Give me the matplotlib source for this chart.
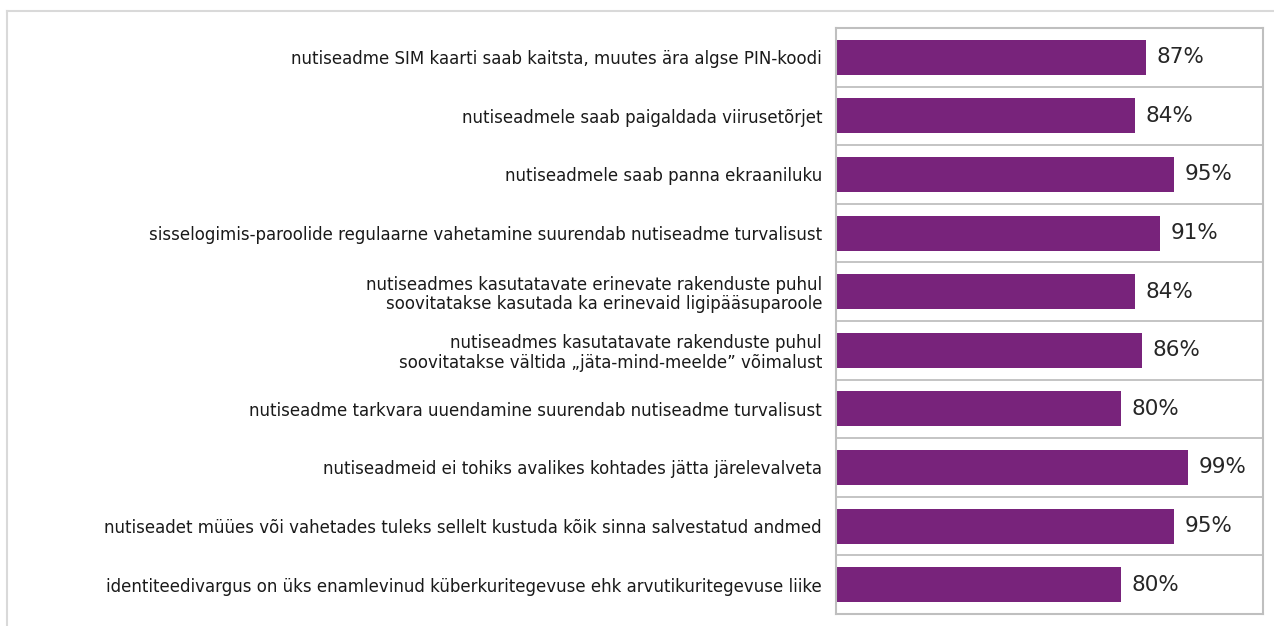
import matplotlib.pyplot as plt
from matplotlib.lines import Line2D

labels = [
    "nutiseadme SIM kaarti saab kaitsta, muutes ära algse PIN-koodi",
    "nutiseadmele saab paigaldada viirusetõrjet",
    "nutiseadmele saab panna ekraaniluku",
    "sisselogimis-paroolide regulaarne vahetamine suurendab nutiseadme turvalisust",
    "nutiseadmes kasutatavate erinevate rakenduste puhul\nsoovitatakse kasutada ka erinevaid ligipääsuparoole",
    "nutiseadmes kasutatavate rakenduste puhul\nsoovitatakse vältida „jäta-mind-meelde” võimalust",
    "nutiseadme tarkvara uuendamine suurendab nutiseadme turvalisust",
    "nutiseadmeid ei tohiks avalikes kohtades jätta järelevalveta",
    "nutiseadet müües või vahetades tuleks sellelt kustuda kõik sinna salvestatud andmed",
    "identiteedivargus on üks enamlevinud küberkuritegevuse ehk arvutikuritegevuse liike",
]
values = [87, 84, 95, 91, 84, 86, 80, 99, 95, 80]

W, H = 1274, 626
fig = plt.figure(figsize=(W / 100, H / 100), dpi=100)
ax = fig.add_axes([836 / W, 1 - 614 / H, 427 / W, 586 / H])

pos = list(range(len(labels)))
ax.barh(pos, values, height=0.6, color="#78237b", zorder=2)
for p, v in zip(pos, values):
    ax.text(v + 3, p, f"{v}%", va="center", ha="left", fontsize=15.5, color="#262626")

ax.set_xlim(0, 120)
ax.set_ylim(len(labels) - 0.5, -0.5)
ax.set_yticks(pos)
ax.set_yticklabels(labels, fontsize=12, color="#1a1a1a", linespacing=1.1)
ax.set_yticks([p + 0.5 for p in pos[:-1]], minor=True)
ax.tick_params(axis="y", which="both", length=0, pad=10)
ax.set_xticks([])
ax.grid(axis="y", which="minor", color="#bfbfbf", linewidth=1.3, zorder=1)
for s in ax.spines.values():
    s.set_color("#bfbfbf")
    s.set_linewidth(1.5)

# outer frame lines
fig.add_artist(Line2D([7 / W, 1], [1 - 10.5 / H] * 2, color="#d9d9d9", linewidth=1.5))
fig.add_artist(Line2D([7 / W] * 2, [0, 1 - 10.5 / H], color="#d9d9d9", linewidth=1.5))

fig.savefig("out.png", dpi=100)
